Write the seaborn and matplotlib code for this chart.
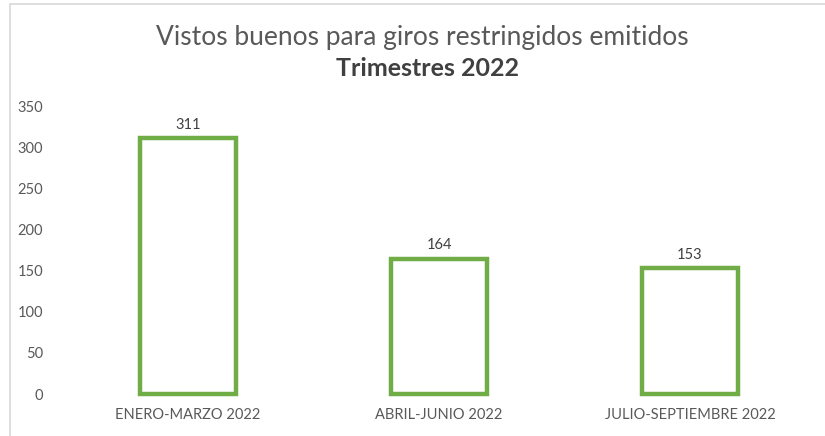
import matplotlib
matplotlib.use("Agg")
import matplotlib.pyplot as plt
from matplotlib.patches import Rectangle
import seaborn as sns
import pandas as pd

# data
trimestres = ["ENERO-MARZO 2022", "ABRIL-JUNIO 2022", "JULIO-SEPTIEMBRE 2022"]
vistos = [311, 164, 153]

sns.set_theme(style="white")
plt.rcParams["font.family"] = ["Lato", "DejaVu Sans"]

df = pd.DataFrame({"trimestre": trimestres, "vistos": vistos})

fig = plt.figure(figsize=(8.25, 4.36), dpi=100)
ax = fig.add_axes([62.5 / 825, 1 - 394 / 436, 753 / 825, 288 / 436])

sns.barplot(data=df, x="trimestre", y="vistos", ax=ax, width=0.386,
            color="white", edgecolor="#70AD47", linewidth=3.2)

for p in ax.patches:
    p.set_clip_on(False)

for i, v in enumerate(vistos):
    ax.text(i, v + 8, str(v), ha="center", va="bottom", fontsize=10.5, color="#404040")

ax.set_ylim(0, 350)
ax.set_xlim(-0.5, 2.5)
ax.set_yticks(range(0, 351, 50))
ax.set_xlabel("")
ax.set_ylabel("")
ax.tick_params(axis="y", labelsize=10.5, labelcolor="#595959", length=0, pad=14)
ax.tick_params(axis="x", labelsize=10.5, labelcolor="#595959", length=0, pad=10)
for s in ax.spines.values():
    s.set_visible(False)

fig.text(0.512, 1 - 37 / 436, "Vistos buenos para giros restringidos emitidos",
         ha="center", va="center", fontsize=19, color="#595959", fontweight="normal")
fig.text(0.518, 1 - 68 / 436, "Trimestres 2022", ha="center", va="center",
         fontsize=18, color="#404040", fontweight="bold")

# outer chart frame (light gray, partly outside the crop)
fig.add_artist(Rectangle((10 / 825, -0.05), 2, 1 - 4 / 436 + 0.05,
                         transform=fig.transFigure, fill=False,
                         edgecolor="#D9D9D9", linewidth=1.2))

fig.savefig("out.png", dpi=100, facecolor="white")
